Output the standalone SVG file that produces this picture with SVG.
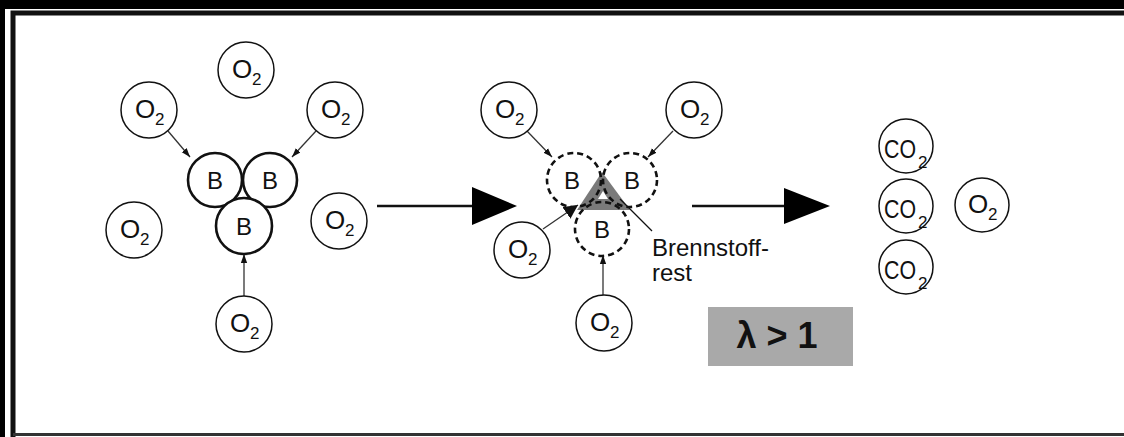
<svg xmlns="http://www.w3.org/2000/svg" width="1124" height="437" viewBox="0 0 1124 437">
<style>
  .o2 { fill: #fff; stroke: #111; stroke-width: 1.5; }
  .b { fill: #fff; stroke: #111; stroke-width: 2.6; }
  .bd { fill: none; stroke: #111; stroke-width: 2.6; stroke-dasharray: 6 4; }
  .t { font-family: "Liberation Sans", Arial, sans-serif; fill: #111; }
  .big { font-size: 26px; }
  .co { font-size: 25px; }
  .bb { font-size: 24px; }
  .sub { font-size: 17px; }
  .conn { stroke: #333; stroke-width: 1.3; fill: none; }
  .thick { stroke: #111; stroke-width: 2.4; fill: none; }
</style>
<defs>
  <marker id="ah" markerUnits="userSpaceOnUse" markerWidth="9" markerHeight="9" viewBox="0 0 10 10" refX="10" refY="5" orient="auto">
    <path d="M0,1.5 L10,5 L0,8.5 Z" fill="#111"/>
  </marker>
  <marker id="ahl" markerUnits="userSpaceOnUse" markerWidth="14" markerHeight="14" viewBox="0 0 14 14" refX="14" refY="7" orient="auto">
    <path d="M0,0 L14,7 L0,14 Z" fill="#111"/>
  </marker>
</defs>
<rect x="0" y="0" width="1124" height="437" fill="#fff"/>
<!-- frame -->
<rect x="0" y="0" width="1124" height="9" fill="#000"/>
<rect x="0" y="0" width="5" height="437" fill="#000"/>
<path d="M13,437 V13 H1124" stroke="#111" stroke-width="5" fill="none"/>
<line x1="13" y1="434.5" x2="1124" y2="434.5" stroke="#333" stroke-width="3"/>

<g id="connectors">
  <line class="conn" x1="168" y1="131" x2="190" y2="157" marker-end="url(#ah)"/>
  <line class="conn" x1="316" y1="131" x2="292" y2="157" marker-end="url(#ah)"/>
  <line class="conn" x1="244" y1="296" x2="244" y2="254" marker-end="url(#ah)"/>
  <line class="conn" x1="527" y1="131" x2="552" y2="157" marker-end="url(#ah)"/>
  <line class="conn" x1="673" y1="131" x2="648" y2="157" marker-end="url(#ah)"/>
  <line class="conn" x1="543" y1="229" x2="578" y2="205" marker-end="url(#ahl)"/>
  <line class="conn" x1="603" y1="296" x2="603" y2="255" marker-end="url(#ah)"/>
  <line class="thick" x1="377" y1="206" x2="472" y2="206"/>
  <path d="M472,187 L517,206 L472,225 Z" fill="#000"/>
  <line class="thick" x1="692" y1="206" x2="784" y2="206"/>
  <path d="M784,188 L830,206 L784,224 Z" fill="#000"/>
</g>

<!-- stage 1 -->
<g id="s1-o2-top"><circle class="o2" cx="246" cy="70" r="28"/><text class="t big" x="232" y="78">O</text><text class="t sub" x="252" y="85">2</text></g>
<g id="s1-o2-tl"><circle class="o2" cx="149" cy="110" r="28"/><text class="t big" x="135" y="118">O</text><text class="t sub" x="155" y="125">2</text></g>
<g id="s1-o2-tr"><circle class="o2" cx="335" cy="110" r="28"/><text class="t big" x="321" y="118">O</text><text class="t sub" x="341" y="125">2</text></g>
<g id="s1-o2-l"><circle class="o2" cx="134" cy="230" r="28"/><text class="t big" x="120" y="238">O</text><text class="t sub" x="140" y="245">2</text></g>
<g id="s1-o2-r"><circle class="o2" cx="339" cy="221" r="28"/><text class="t big" x="325" y="229">O</text><text class="t sub" x="345" y="236">2</text></g>
<g id="s1-o2-b"><circle class="o2" cx="244" cy="324" r="28"/><text class="t big" x="230" y="332">O</text><text class="t sub" x="250" y="339">2</text></g>
<g id="s1-b1"><circle class="b" cx="215" cy="180" r="27"/><text class="t bb" x="215" y="189" text-anchor="middle">B</text></g>
<g id="s1-b2"><circle class="b" cx="270" cy="180" r="27"/><text class="t bb" x="270" y="189" text-anchor="middle">B</text></g>
<g id="s1-b3"><circle class="b" cx="244" cy="226" r="28"/><text class="t bb" x="244" y="235" text-anchor="middle">B</text></g>

<!-- stage 2 -->
<g id="s2-o2-tl"><circle class="o2" cx="509" cy="110" r="28"/><text class="t big" x="495" y="118">O</text><text class="t sub" x="515" y="125">2</text></g>
<g id="s2-o2-tr"><circle class="o2" cx="694" cy="110" r="28"/><text class="t big" x="680" y="118">O</text><text class="t sub" x="700" y="125">2</text></g>
<g id="s2-o2-l"><circle class="o2" cx="522" cy="250" r="28"/><text class="t big" x="508" y="258">O</text><text class="t sub" x="528" y="265">2</text></g>
<g id="s2-o2-b"><circle class="o2" cx="604" cy="323" r="28"/><text class="t big" x="590" y="331">O</text><text class="t sub" x="610" y="338">2</text></g>
<g id="rest">
  <path d="M602,172 L630,210 L577,210 Z" fill="#7a7a7a"/>
  <path d="M603,191 L608,199 L598,199 Z" fill="#fff"/>
  <line x1="620" y1="199" x2="652" y2="231" stroke="#111" stroke-width="1.3"/>
  <text class="t" font-size="24" x="652" y="256">Brennstoff-</text>
  <text class="t" font-size="24" x="652" y="281">rest</text>
</g>
<g id="s2-b1"><circle class="bd" cx="574" cy="180" r="27"/><text class="t bb" x="572" y="189" text-anchor="middle">B</text></g>
<g id="s2-b2"><circle class="bd" cx="630" cy="180" r="27"/><text class="t bb" x="632" y="189" text-anchor="middle">B</text></g>
<g id="s2-b3"><circle class="bd" cx="602" cy="229" r="27"/><text class="t bb" x="602" y="238" text-anchor="middle">B</text></g>
<g id="lambda">
  <rect x="708" y="307" width="145" height="59" fill="#a9a9a9"/>
  <text class="t" font-size="36" font-weight="bold" x="777" y="348" text-anchor="middle">λ &gt; 1</text>
</g>

<!-- stage 3 -->
<g id="s3-co2-1"><circle class="o2" cx="906" cy="146" r="27"/><text class="t co" x="884" y="158" textLength="32" lengthAdjust="spacingAndGlyphs">CO</text><text class="t sub" x="918" y="168">2</text></g>
<g id="s3-co2-2"><circle class="o2" cx="906" cy="206" r="27"/><text class="t co" x="884" y="218" textLength="32" lengthAdjust="spacingAndGlyphs">CO</text><text class="t sub" x="918" y="228">2</text></g>
<g id="s3-co2-3"><circle class="o2" cx="906" cy="267" r="27"/><text class="t co" x="884" y="279" textLength="32" lengthAdjust="spacingAndGlyphs">CO</text><text class="t sub" x="918" y="289">2</text></g>
<g id="s3-o2"><circle class="o2" cx="982" cy="205" r="27"/><text class="t big" x="968" y="213">O</text><text class="t sub" x="988" y="220">2</text></g>
</svg>
